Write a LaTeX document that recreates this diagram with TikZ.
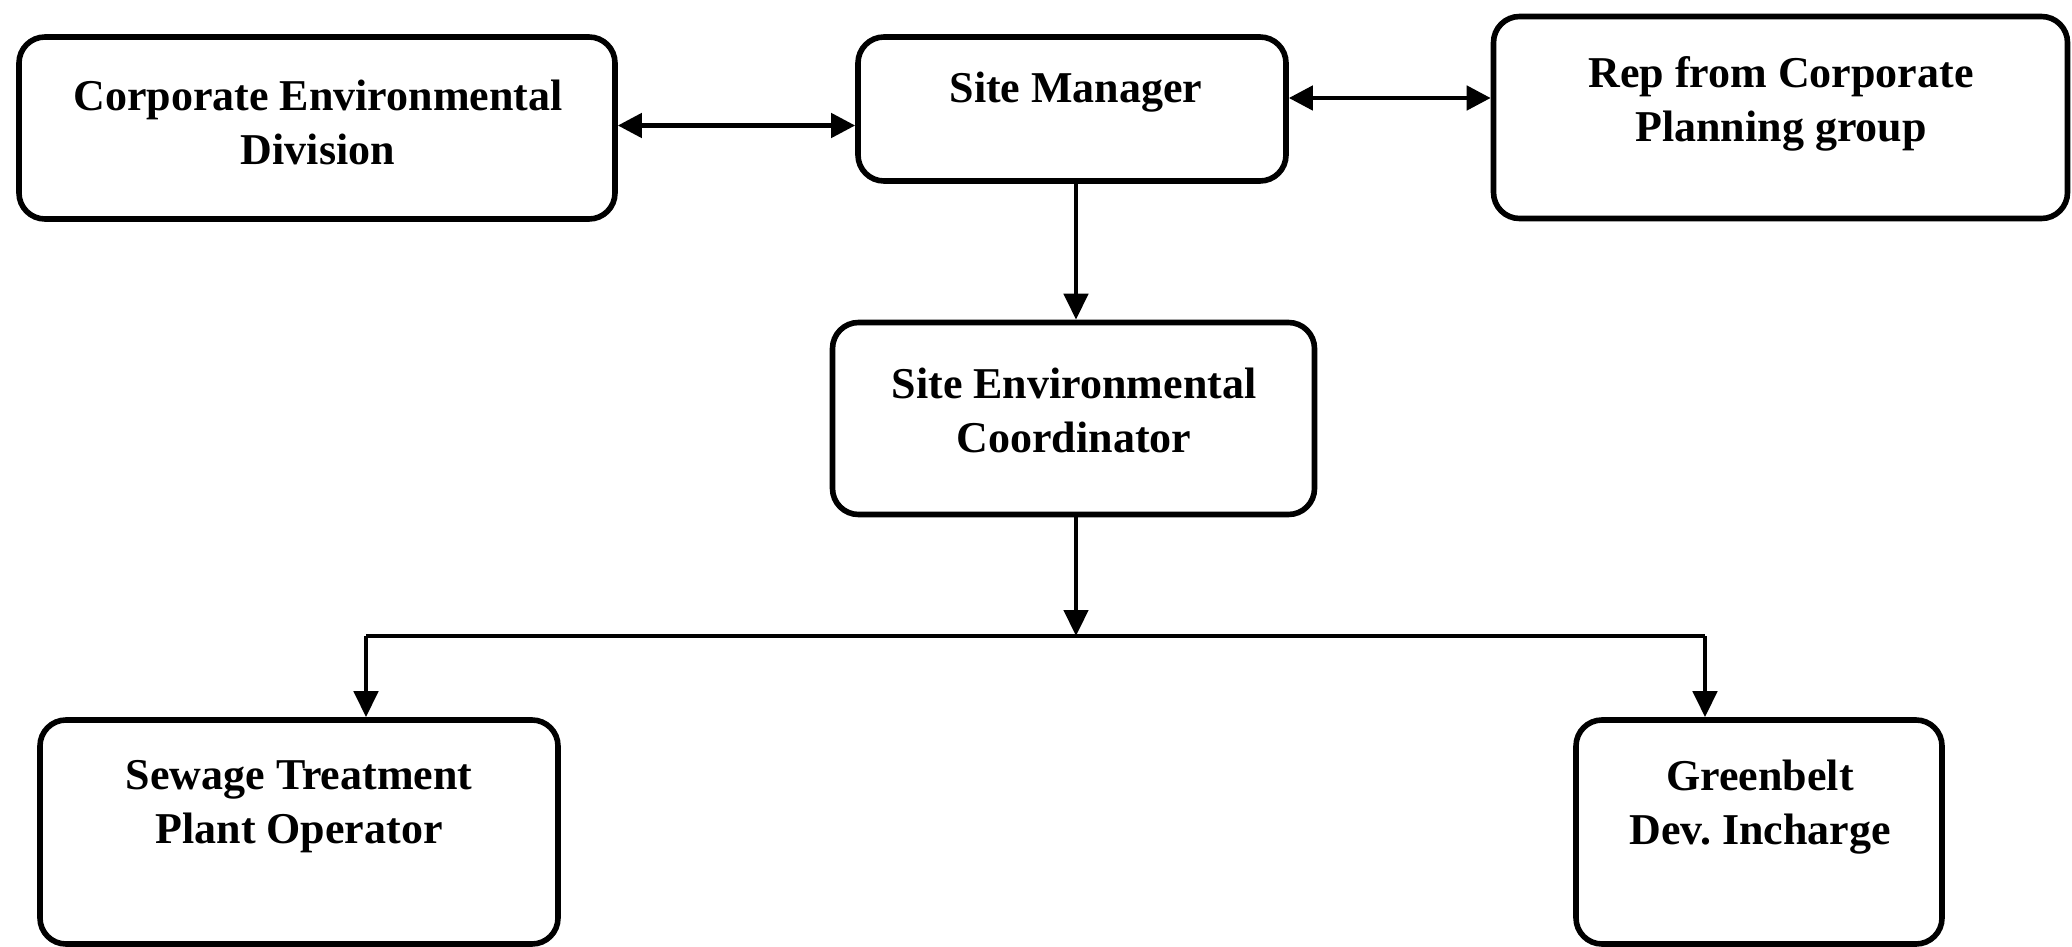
\documentclass[tikz,border=0pt]{standalone}
\usepackage{fontspec}
\setmainfont{Liberation Serif}
\usetikzlibrary{arrows.meta}
\begin{document}
\begin{tikzpicture}[x=0.5pt,y=-0.5pt,
  box/.style={draw=black,line width=2.8pt,rounded corners=13pt,fill=white,inner sep=0pt},
  txt/.style={font=\fontsize{22}{27}\selectfont\bfseries,align=center,inner sep=0pt},
  conn/.style={line width=2.3pt,-{Triangle[length=13pt,width=12pt]}},
  dbl/.style={line width=2.3pt,{Triangle[length=12pt,width=12pt]}-{Triangle[length=12pt,width=12pt]}},
  plain/.style={line width=2.3pt}]
\useasboundingbox (0,0) rectangle (2072,947);
% boxes
\node[box,minimum width=298pt,minimum height=91pt] (ced) at (317,128) {};
\node[box,minimum width=214pt,minimum height=72pt] (sm) at (1072,109) {};
\node[box,minimum width=287pt,minimum height=101pt] (rep) at (1780.5,117.5) {};
\node[box,minimum width=241pt,minimum height=96pt] (sec) at (1073.5,418.5) {};
\node[box,minimum width=259pt,minimum height=112pt] (stp) at (299,832) {};
\node[box,minimum width=183pt,minimum height=112pt] (gb) at (1759,832) {};
% texts
\node[txt] (tced) at (318,122) {Corporate Environmental\\Division};
\node[txt] (tsm) at (1076,92) {Site Manager};
\node[txt] (trep) at (1781,104) {Rep from Corporate\\Planning group};
\node[txt] (tsec) at (1074,410) {Site Environmental\\Coordinator};
\node[txt] (tstp) at (299,807) {Sewage Treatment\\Plant Operator};
\node[txt] (tgb) at (1760,807) {Greenbelt\\Dev.\ Incharge};
% connectors
\coordinate (a1) at (0,125.5);
\coordinate (a2) at (0,98);
\coordinate (cx) at (1076,0);
\draw[dbl] (ced.east |- a1) -- (sm.west |- a1);
\draw[dbl] (sm.east |- a2) -- (rep.west |- a2);
\draw[conn] (sm.south -| cx) -- (sec.north -| cx);
\coordinate (j) at (1076,636);
\coordinate (jl) at (366,636);
\coordinate (jr) at (1705,636);
\draw[conn] (sec.south -| cx) -- (j);
\draw[plain] (jl) -- (jr);
\draw[conn] (jl) -- (stp.north -| jl);
\draw[conn] (jr) -- (gb.north -| jr);
\end{tikzpicture}
\end{document}
